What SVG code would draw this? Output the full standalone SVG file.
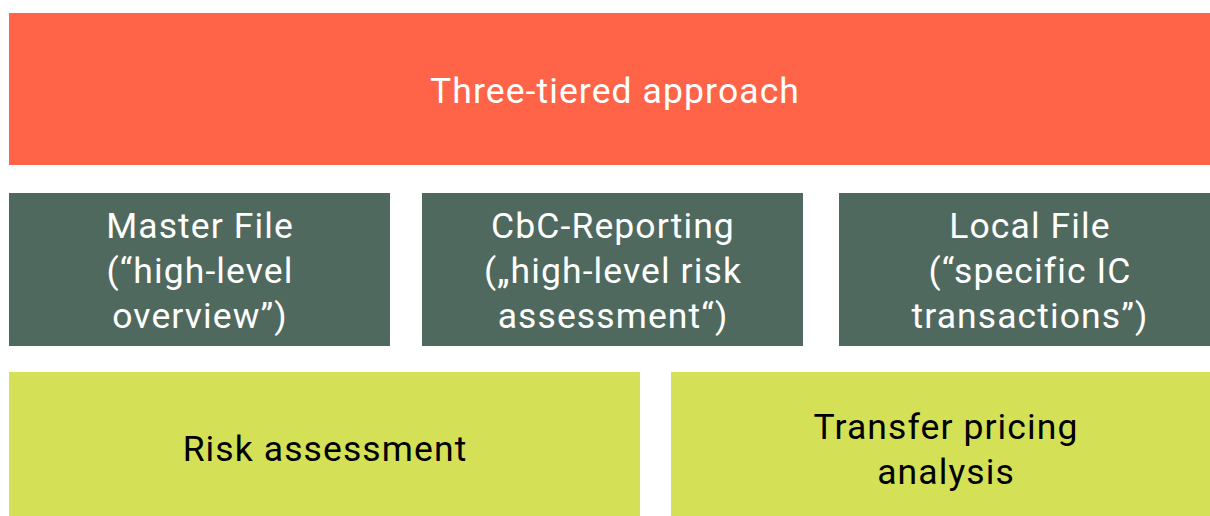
<svg xmlns="http://www.w3.org/2000/svg" width="1210" height="516" viewBox="0 0 1210 516">
<style>
.t{font-family:Roboto,"Liberation Sans",sans-serif;font-size:35.5px;letter-spacing:1.1px;text-anchor:middle}
.w{fill:#ffffff}
.k{fill:#000000}
</style>
<rect width="1210" height="516" fill="#ffffff"/>
<g id="top"><rect x="9" y="13" width="1201" height="152" fill="#FF6449"/>
<text class="t w" x="615" y="103">Three-tiered approach</text></g>
<g id="master"><rect x="9" y="193" width="381" height="153" fill="#50695E"/>
<text class="t w" x="200" y="238">Master File</text>
<text class="t w" x="200" y="283">(“high-level</text>
<text class="t w" x="200" y="328">overview”)</text></g>
<g id="cbc"><rect x="422" y="193" width="381" height="153" fill="#50695E"/>
<text class="t w" x="613" y="238">CbC-Reporting</text>
<text class="t w" x="613" y="283">(„high-level risk</text>
<text class="t w" x="613" y="328">assessment“)</text></g>
<g id="local"><rect x="839" y="193" width="371" height="153" fill="#50695E"/>
<text class="t w" x="1030" y="238">Local File</text>
<text class="t w" x="1030" y="283">(“specific IC</text>
<text class="t w" x="1030" y="328">transactions”)</text></g>
<g id="risk"><rect x="9" y="372" width="631" height="144" fill="#D4E157"/>
<text class="t k" x="325" y="461">Risk assessment</text></g>
<g id="tp"><rect x="671" y="372" width="539" height="144" fill="#D4E157"/>
<text class="t k" x="946" y="439">Transfer pricing</text>
<text class="t k" x="946" y="484">analysis</text></g>
<g id="connectors"></g>
</svg>
